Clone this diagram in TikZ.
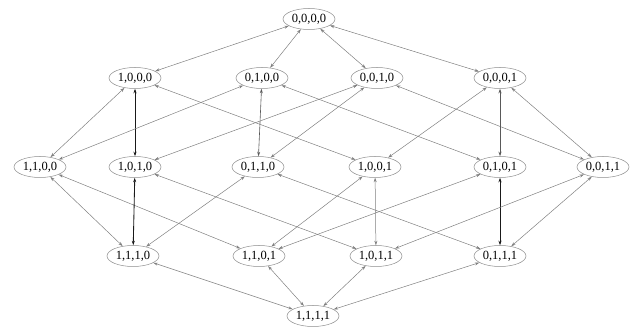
\documentclass[tikz,border=0pt]{standalone}
\usepackage{fontspec}
\setmainfont{Liberation Serif}
\usetikzlibrary{arrows.meta,shapes.geometric}
\begin{document}
\begin{tikzpicture}[x=1pt,y=-1pt,
  st/.style={draw=black!45, ellipse, line width=0.5pt, minimum width=52pt, minimum height=21pt, inner sep=0pt, font=\fontsize{12.5}{12.5}\selectfont},
  ed/.style={draw=black!50, line width=0.5pt, {Stealth[length=4.5pt,width=3pt]}-{Stealth[length=4.5pt,width=3pt]}},
  md/.style={ed, draw=black!65, line width=0.6pt},
  dk/.style={draw=black!90, line width=0.85pt, {Stealth[length=4.5pt,width=3pt]}-{Stealth[length=4.5pt,width=3pt]}}]
\useasboundingbox (0,0) rectangle (632,328);
\node[st] (a0000) at (309,19) {0,0,0,0};
\node[st] (a1000) at (135,78) {1,0,0,0};
\node[st] (a0100) at (262,78) {0,1,0,0};
\node[st] (a0010) at (377,78) {0,0,1,0};
\node[st] (a0001) at (500,78) {0,0,0,1};
\node[st] (a1100) at (40,167) {1,1,0,0};
\node[st] (a1010) at (135,167) {1,0,1,0};
\node[st] (a0110) at (258,167) {0,1,1,0};
\node[st] (a1001) at (375,167) {1,0,0,1};
\node[st] (a0101) at (500,167) {0,1,0,1};
\node[st] (a0011) at (603,167) {0,0,1,1};
\node[st] (a1110) at (133,256) {1,1,1,0};
\node[st] (a1101) at (259,256) {1,1,0,1};
\node[st] (a1011) at (376,256) {1,0,1,1};
\node[st] (a0111) at (500,256) {0,1,1,1};
\node[st] (a1111) at (313,316) {1,1,1,1};
% level 0-1
\draw[ed] (a0000) -- (a1000);
\draw[ed] (a0000) -- (a0100);
\draw[ed] (a0000) -- (a0010);
\draw[ed] (a0000) -- (a0001);
% level 1-2
\draw[ed] (a1000) -- (a1100);
\draw[dk] (a1000) -- (a1010);
\draw[ed] (a1000) -- (a1001);
\draw[ed] (a0100) -- (a1100);
\draw[md] (a0100) -- (a0110);
\draw[ed] (a0100) -- (a0101);
\draw[ed] (a0010) -- (a1010);
\draw[ed] (a0010) -- (a0110);
\draw[ed] (a0010) -- (a0011);
\draw[ed] (a0001) -- (a1001);
\draw[md] (a0001) -- (a0101);
\draw[ed] (a0001) -- (a0011);
% level 2-3
\draw[ed] (a1100) -- (a1110);
\draw[ed] (a1100) -- (a1101);
\draw[dk] (a1010) -- (a1110);
\draw[ed] (a1010) -- (a1011);
\draw[ed] (a0110) -- (a1110);
\draw[ed] (a0110) -- (a0111);
\draw[ed] (a1001) -- (a1101);
\draw[ed] (a1001) -- (a1011);
\draw[ed] (a0101) -- (a1101);
\draw[dk] (a0101) -- (a0111);
\draw[ed] (a0011) -- (a1011);
\draw[ed] (a0011) -- (a0111);
% level 3-4
\draw[ed] (a1110) -- (a1111);
\draw[ed] (a1101) -- (a1111);
\draw[ed] (a1011) -- (a1111);
\draw[ed] (a0111) -- (a1111);
\end{tikzpicture}
\end{document}
